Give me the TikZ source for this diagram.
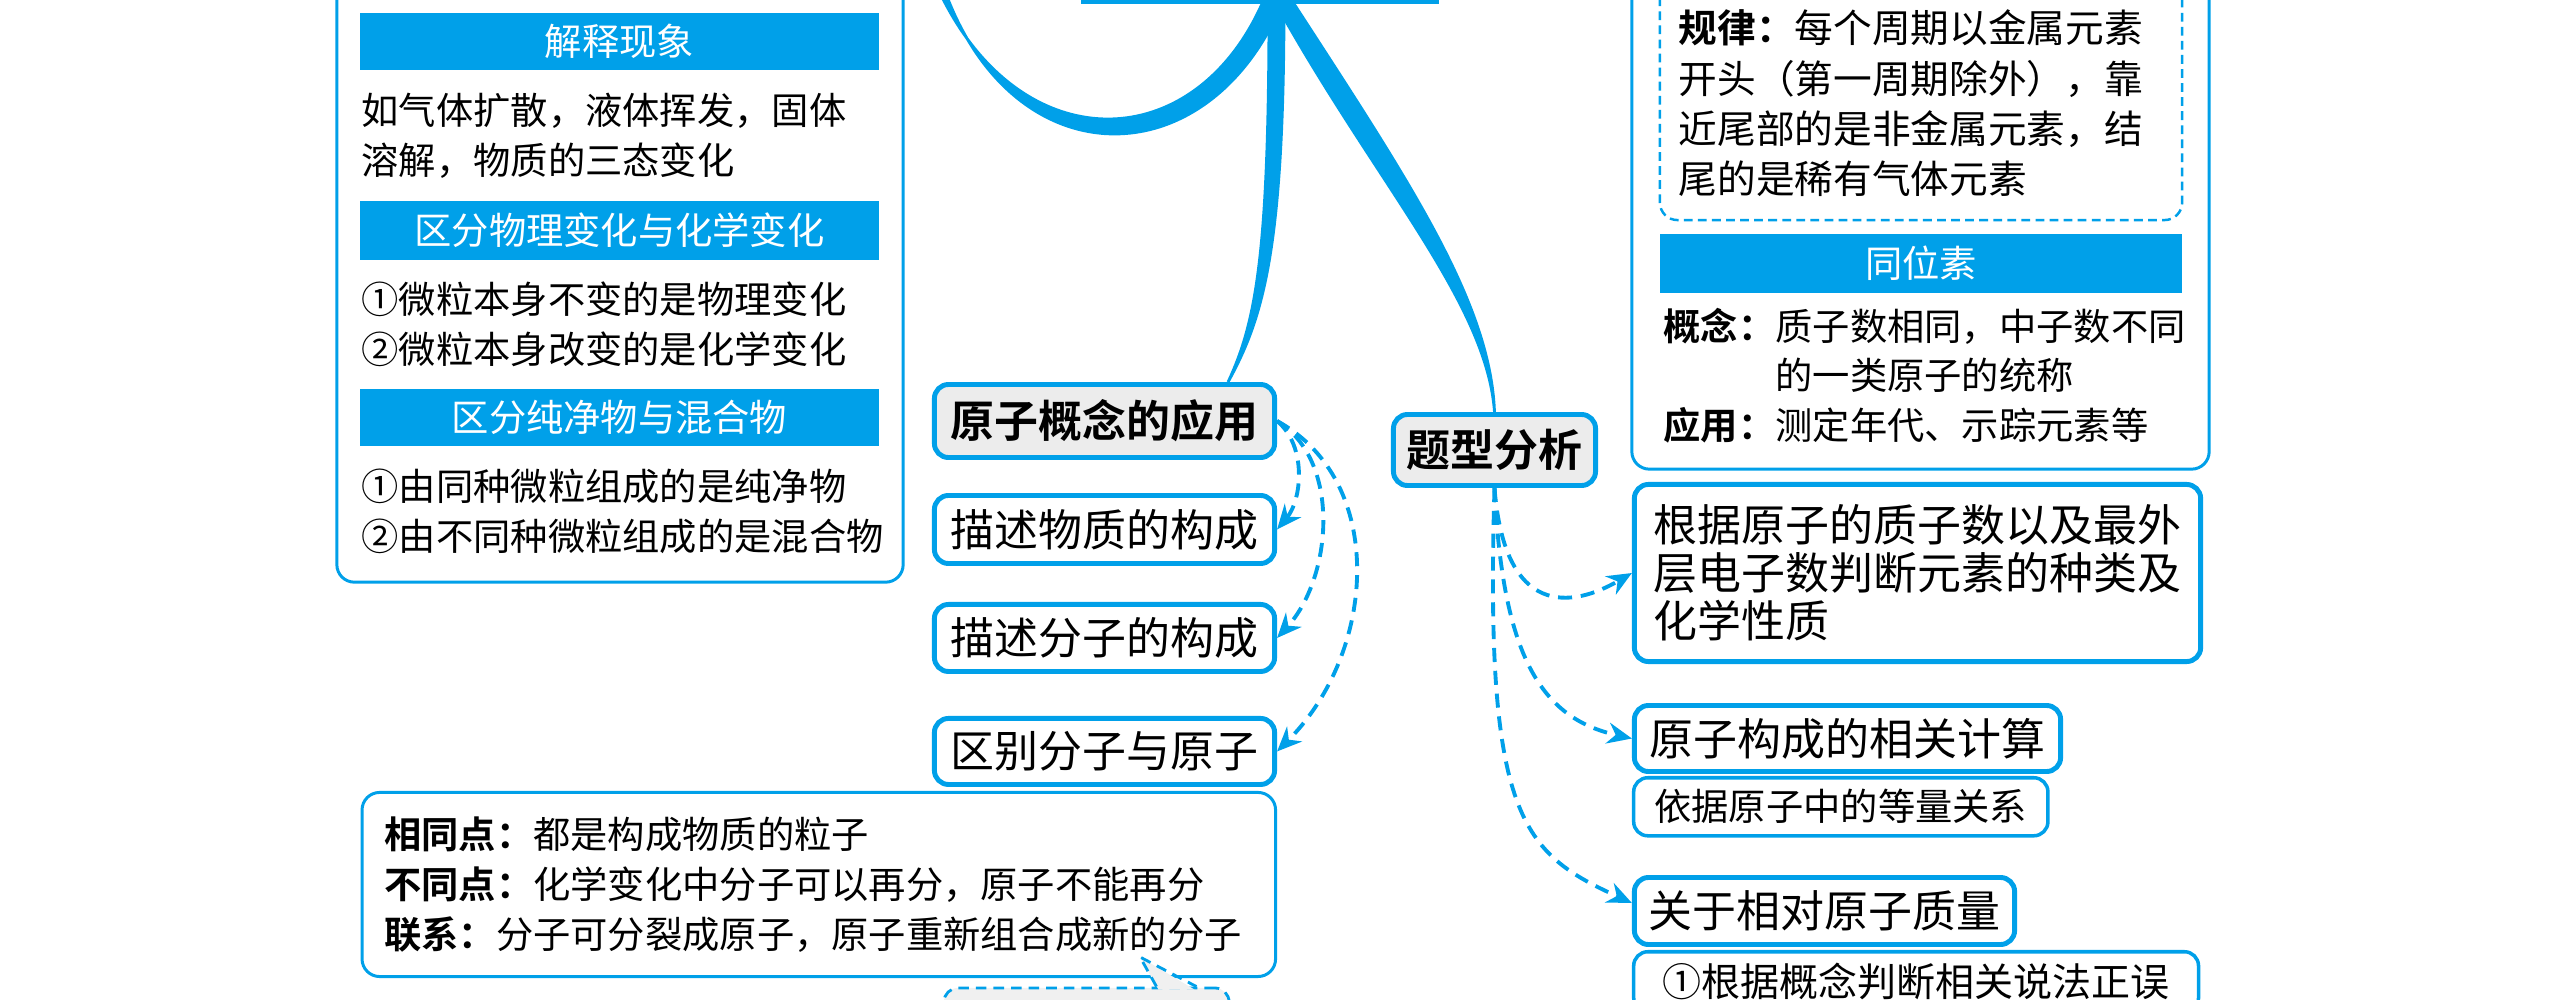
\documentclass[tikz,border=0pt]{standalone}
\usepackage{fontspec}
\setmainfont{Noto Sans CJK SC}[BoldFont={Noto Sans CJK SC Bold}]
\usetikzlibrary{arrows.meta, positioning, calc}
\definecolor{mainblue}{RGB}{0,160,233}
\definecolor{keygray}{RGB}{236,236,236}
\definecolor{hintgray}{RGB}{240,240,240}

\begin{document}
\begin{tikzpicture}[
    x=0.01cm, y=-0.01cm,
    rootbox/.style={draw=mainblue, line width=1pt, minimum width=3.54cm, minimum height=1cm},
    keynode/.style={draw=mainblue, line width=1.4pt, rounded corners=4pt, fill=keygray, font=\fontsize{12.5}{15}\selectfont\bfseries},
    leaf/.style={draw=mainblue, line width=1.4pt, rounded corners=4pt, fill=white, align=left, font=\fontsize{12.5}{13.7}\selectfont},
    detail/.style={draw=mainblue, line width=1pt, rounded corners=4pt, fill=white, font=\fontsize{10.6}{13}\selectfont},
    panel/.style={draw=mainblue, line width=0.85pt, rounded corners=5pt, fill=white},
    hintbox/.style={draw=mainblue, line width=0.8pt, dash pattern=on 3pt off 2pt, rounded corners=4pt, fill=hintgray},
    bar/.style={fill=mainblue, text=white, minimum height=0.47cm, font=\fontsize{10.6}{12}\selectfont},
    body/.style={anchor=west, inner sep=0pt, align=left, font=\fontsize{10.6}{14.2}\selectfont},
    link/.style={draw=mainblue, line width=1.1pt, dash pattern=on 4pt off 2.5pt, -{Stealth[length=7pt, width=6pt]}},
    branch/.style={fill=mainblue, draw=mainblue, line width=0.8pt}
]
    \useasboundingbox (0,0) rectangle (2551,1000);

    % 中心主题（只露出底边）
    \node[rootbox] (root) at (1260,-48) {};
    \coordinate (hub) at ($(root.south)+(18,0)$);
    \coordinate (upleft) at (930,-30);

    % 左侧：微粒观点的应用
    \node[panel, minimum width=5.66cm, minimum height=6.12cm] (lbox) at (620,276) {};
    \node[bar, minimum width=5.19cm] (h1) at (619.5,41.5) {解释现象};
    \node[body] (t1) at (361,136) {如气体扩散，液体挥发，固体\\溶解，物质的三态变化};
    \node[bar, minimum width=5.19cm] (h2) at (619.5,230.5) {区分物理变化与化学变化};
    \node[body] (t2) at (361,324.5) {①微粒本身不变的是物理变化\\②微粒本身改变的是化学变化};
    \node[bar, minimum width=5.19cm] (h3) at (619.5,417.5) {区分纯净物与混合物};
    \node[body] (t3) at (361,511.5) {①由同种微粒组成的是纯净物\\②由不同种微粒组成的是混合物};

    % 中间：原子概念的应用
    \node[keynode, minimum width=3.40cm, minimum height=0.73cm] (app) at (1104.5,421) {原子概念的应用};
    \node[leaf, minimum width=3.40cm, minimum height=0.68cm, below=0.33cm of app] (d1) {描述物质的构成};
    \node[leaf, minimum width=3.40cm, minimum height=0.67cm, below=0.36cm of d1] (d2) {描述分子的构成};
    \node[leaf, minimum width=3.40cm, minimum height=0.66cm, below=0.42cm of d2] (d3) {区别分子与原子};
    \node[panel, minimum width=9.13cm, minimum height=1.84cm, below=0.04cm of d3.south east, anchor=north east] (cmp) {};
    \node[body] (cmpt) at ($(cmp.west)+(23,0)$) {\textbf{相同点：}都是构成物质的粒子\\\textbf{不同点：}化学变化中分子可以再分，原子不能再分\\\textbf{联系：}分子可分裂成原子，原子重新组合成新的分子};
    \node[hintbox, minimum width=2.85cm, minimum height=0.72cm] (hint) at (1086.5,1024) {};
    \coordinate (tip) at (1140,957);
    \fill[hintgray] ($(hint.north)+(72,3)$) -- (tip) -- ($(hint.north)+(108,3)$) -- cycle;
    \draw[mainblue, line width=0.8pt, dash pattern=on 3pt off 2pt] ($(hint.north)+(70,0)$) -- (tip) -- ($(hint.north)+(110,0)$);

    % 右侧：元素周期表与同位素
    \node[panel, minimum width=5.77cm, minimum height=5cm] (rbox) at (1920.5,219) {};
    \node[draw=mainblue, line width=0.7pt, dash pattern=on 2.5pt off 1.5pt, rounded corners=5pt, minimum width=5.22cm, minimum height=2.6cm] (law) at (1921,90) {};
    \node[body, font=\fontsize{11}{14.3}\selectfont] (lawt) at (1678,103.5) {\textbf{规律：}每个周期以金属元素\\开头（第一周期除外），靠\\近尾部的是非金属元素，结\\尾的是稀有气体元素};
    \node[bar, minimum width=5.22cm] (h4) at (1921,263.5) {同位素};
    \node[body] (isot) at (1663,380) {\begin{tabular}{@{}l@{}l@{}}\textbf{概念：}&质子数相同，中子数不同\\&的一类原子的统称\\\textbf{应用：}&测定年代、示踪元素等\end{tabular}};

    % 题型分析
    \node[keynode, minimum width=2.02cm, minimum height=0.71cm] (topic) at (1494.5,450) {题型分析};
    \node[leaf, minimum width=5.66cm, minimum height=1.77cm] (q1) at (1917.5,573) {根据原子的质子数以及最外\\层电子数判断元素的种类及\\化学性质};
    \node[leaf, minimum width=4.26cm, minimum height=0.66cm] (q2) at (1847.5,738.5) {原子构成的相关计算};
    \node[detail, minimum width=4.14cm, minimum height=0.565cm, below=0.02cm of q2.south west, anchor=north west] (q2n) {依据原子中的等量关系};
    \node[leaf, minimum width=3.80cm, minimum height=0.67cm] (q3) at (1824.5,911) {关于相对原子质量};
    \node[detail, font=\fontsize{11.1}{13}\selectfont, minimum width=5.645cm, minimum height=0.6cm, below=0.03cm of q3.south west, anchor=north west] (q3n) {①根据概念判断相关说法正误};

    % 主干分支
    \filldraw[branch] ($(hub)+(-16,0)$) .. controls (1190,165) and (1005,160) .. (upleft)
        -- ($(upleft)+(8,0)$) .. controls (1000,180) and (1205,185) .. ($(hub)+(4,0)$) -- cycle;
    \coordinate (appin) at ($(app.north east)+(-49,0)$);
    \filldraw[branch] ($(hub)+(-9,0)$) .. controls +(0,250) and +(28,-60) .. (appin)
        .. controls +(34,-62) and +(0,250) .. ($(hub)+(6,0)$) -- cycle;
    \filldraw[branch] ($(hub)+(-2,0)$) .. controls +(100,180) and +(-8,-110) .. (topic.north)
        .. controls +(-4,-110) and +(114,176) .. ($(hub)+(16,0)$) -- cycle;

    % 虚线箭头
    \draw[link] (app.east) .. controls +(30,25) and +(25,-30) .. (d1.east);
    \draw[link] (app.east) .. controls +(65,40) and +(55,-60) .. (d2.east);
    \draw[link] (app.east) .. controls +(110,60) and +(100,-100) .. (d3.east);
    \draw[link] (topic.south) .. controls +(10,130) and +(-60,35) .. (q1.west);
    \draw[link] (topic.south) .. controls +(8,170) and +(-90,-20) .. (q2.west);
    \draw[link] (topic.south) .. controls +(-10,330) and +(-110,-50) .. ($(q3.west)+(0,-8)$);
\end{tikzpicture}
\end{document}
